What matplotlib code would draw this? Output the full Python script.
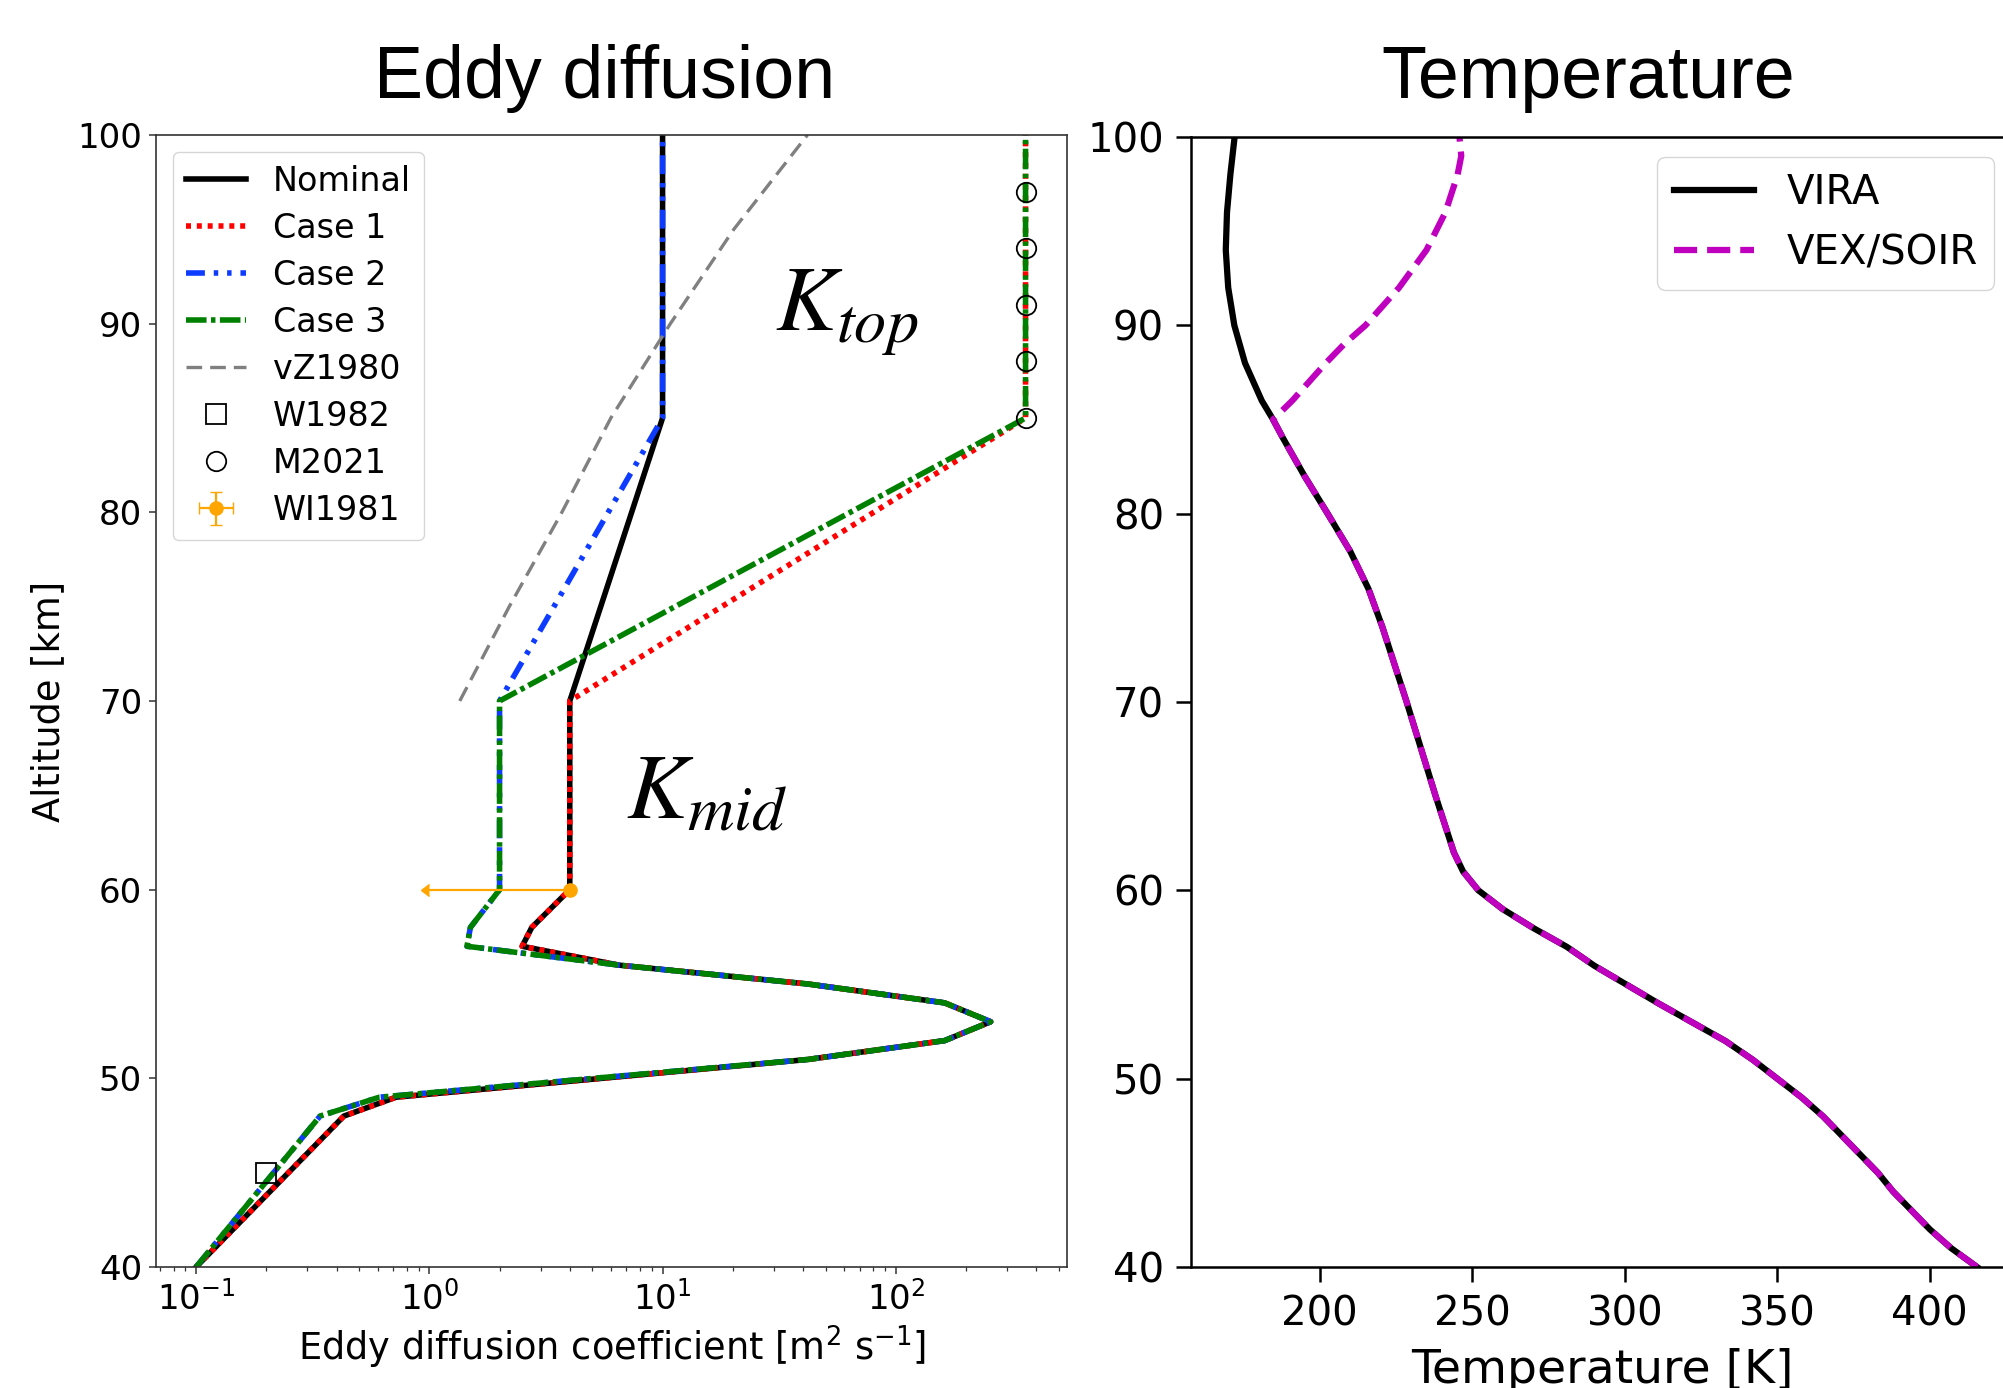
import numpy as np
import matplotlib
matplotlib.use("Agg")
import matplotlib.pyplot as plt

W, H = 2003, 1388

# ---- eddy diffusion profiles: altitude [km] vs K [m2/s]
alt_k = [40, 48, 49, 51, 52, 53, 54, 55, 56, 57, 58, 60, 70, 85, 100]
k_nominal = [0.1, 0.43, 0.72, 42, 162, 255, 162, 42, 6.5, 2.5, 2.75, 4.0, 4.0, 10, 10]
k_case1 = [0.1, 0.43, 0.72, 42, 162, 255, 162, 42, 6.5, 2.5, 2.75, 4.0, 4.0, 360, 360]
k_case2 = [0.1, 0.34, 0.61, 42, 162, 255, 162, 42, 6.5, 1.45, 1.5, 2.0, 2.0, 10, 10]
k_case3 = [0.1, 0.34, 0.61, 42, 162, 255, 162, 42, 6.5, 1.45, 1.5, 2.0, 2.0, 360, 360]

alt_vz = [70, 75, 80, 85, 90, 95, 100]
k_vz = [1.35, 2.2, 3.7, 6.0, 10.8, 20.2, 41.8]

alt_w82 = [45]
k_w82 = [0.2]

alt_m21 = [85, 88, 91, 94, 97]
k_m21 = [360, 360, 360, 360, 360]

alt_wi81 = [60]
k_wi81 = [4.0]
kerr_wi81 = [3.0]

# ---- temperature profiles
alt_t = [40, 41, 42, 43, 44, 45, 46, 47, 48, 49, 50, 51, 52, 53, 54, 55, 56, 57,
         58, 59, 60, 61, 62, 65, 70, 72, 74, 76, 78, 80, 82, 84, 85, 86, 88, 90,
         92, 94, 96, 98, 100]
t_vira = [415.5, 407, 400, 394, 388, 383, 377, 371, 365, 358, 350, 342, 333, 322,
          311, 300.5, 290, 281, 270, 260, 252, 247, 244, 238, 228.5, 224.5, 220.5,
          216, 210, 202.6, 195, 188, 184.7, 181, 175.5, 172, 170, 169.2, 169.6,
          170.7, 172.1]
alt_soir_top = [86, 88, 89, 90, 91, 92, 94, 96, 98, 99, 100]
t_soir_top = [191, 202, 208, 215, 220.5, 226, 235, 241.2, 245.2, 246.4, 245.8]

alt_soir = [a for a in alt_t if a <= 85] + alt_soir_top
t_soir = [t for a, t in zip(alt_t, t_vira) if a <= 85] + t_soir_top

fig = plt.figure(figsize=(W / 100, H / 100), dpi=100)

# ---------------- left panel
ax1 = fig.add_axes([156 / W, 1 - 1267 / H, (1067 - 156) / W, (1267 - 135) / H])
lw = 4
ax1.plot(k_nominal, alt_k, color="black", lw=lw, label="Nominal")
ax1.plot(k_case1, alt_k, color="red", lw=lw, ls=(0, (0.9, 1.05)), label="Case 1")
ax1.plot(k_case2, alt_k, color="#0d3bff", lw=lw,
         ls=(0, (3.4, 1.6, 0.8, 1.6, 0.8, 1.6)), label="Case 2")
ax1.plot(k_case3, alt_k, color="green", lw=lw, ls=(0, (3.7, 0.8, 0.8, 0.8)),
         label="Case 3")
ax1.plot(k_vz, alt_vz, color="gray", lw=2.4, ls=(0, (4.7, 2.4)), label="vZ1980")
ax1.plot(k_w82, alt_w82, ls="none", marker="s", ms=14, mfc="none", mec="black",
         mew=1.3, label="W1982")
ax1.plot(k_m21, alt_m21, ls="none", marker="o", ms=14, mfc="none", mec="black",
         mew=1.3, label="M2021")
ax1.errorbar(k_wi81, alt_wi81, xerr=kerr_wi81, yerr=[0], xuplims=True, fmt="o",
             color="orange", ms=9.5, elinewidth=1.6, capsize=4, label="WI1981")

ax1.set_xscale("log")
ax1.set_xlim(0.0673, 542)
ax1.set_ylim(40, 100)
ax1.set_yticks(range(40, 101, 10))
for s in ax1.spines.values():
    s.set_color("#333333")
    s.set_linewidth(1.2)
ax1.tick_params(which="major", labelsize=24.5, length=5, width=1.1, pad=5,
                color="#333333")
ax1.tick_params(which="minor", length=3, width=0.9, color="#333333")
ax1.set_xlabel(r"Eddy diffusion coefficient [m$^2$ s$^{-1}$]", fontsize=26.5)
ax1.set_ylabel("Altitude [km]", fontsize=26.5)
ax1.xaxis.set_label_coords(0.5, -0.05)
ax1.yaxis.set_label_coords(-0.097, 0.5)
ax1.legend(loc="upper left", fontsize=24, handlelength=1.8, labelspacing=0.42)

# ---------------- right panel
ax2 = fig.add_axes([1191 / W, 1 - 1267 / H, (2014 - 1191) / W, (1267 - 137) / H])
ax2.plot(t_vira, alt_t, color="black", lw=4.5, label="VIRA")
ax2.plot(t_soir, alt_soir, color="#bf00bf", lw=4.5, ls="--", label="VEX/SOIR")
ax2.set_xlim(157.8, 427.6)
ax2.set_ylim(40, 100)
ax2.set_xticks(range(200, 401, 50))
ax2.set_yticks(range(40, 101, 10))
ax2.spines["right"].set_visible(False)
for s in ["left", "top", "bottom"]:
    ax2.spines[s].set_linewidth(1.8)
ax2.tick_params(labelsize=29, length=10.5, width=1.8, pad=9)
ax2.set_xlabel("Temperature [K]", fontsize=34)
ax2.xaxis.set_label_coords(0.5, -0.072)
ax2.legend(loc="upper right", fontsize=29)

# ---------------- titles and annotations
fig.text(605 / W, 1 - 98 / H, "Eddy diffusion", ha="center", va="baseline",
         fontsize=53, family="Liberation Sans")
fig.text(1588 / W, 1 - 98 / H, "Temperature", ha="center", va="baseline",
         fontsize=53, family="Liberation Sans")
fig.text(775 / W, 1 - 330 / H, r"$K_{top}$", ha="left", va="baseline",
         fontsize=66, math_fontfamily="stix")
fig.text(626 / W, 1 - 818 / H, r"$K_{mid}$", ha="left", va="baseline",
         fontsize=66, math_fontfamily="stix")

fig.savefig("out.png", dpi=100)
